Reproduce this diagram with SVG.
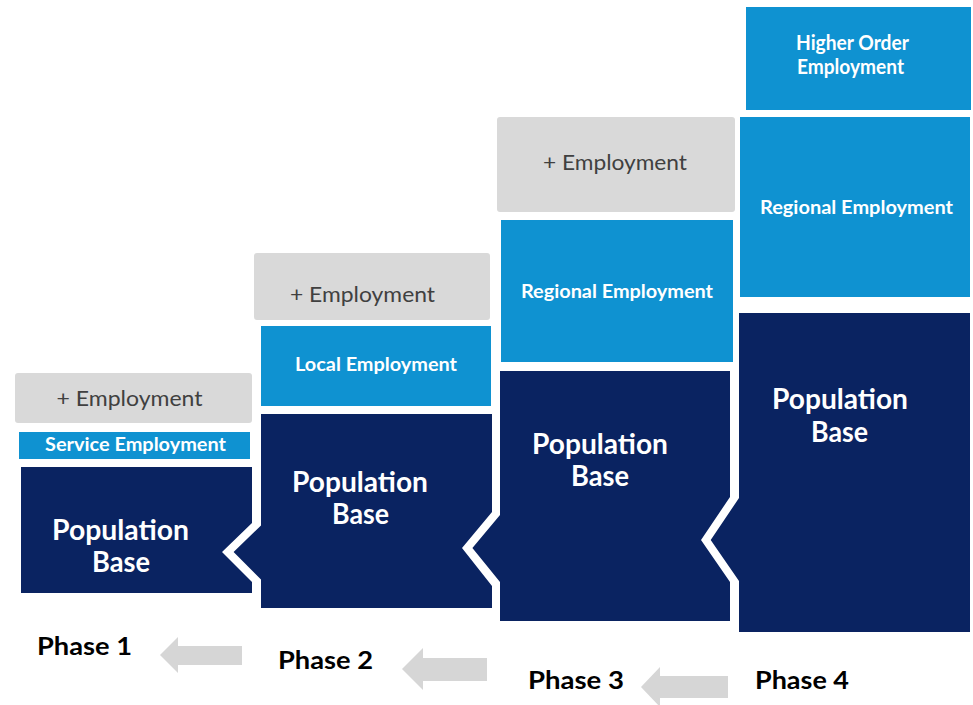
<svg xmlns="http://www.w3.org/2000/svg" width="973" height="705" viewBox="0 0 973 705">
  <defs>
    <style>
      .grey { fill: #d9d9d9; }
      .light { fill: #0f92d1; }
      .navy { fill: #0a2361; }
      .arrow { fill: #d6d6d6; }
      text { font-family: Lato, "Open Sans", "Liberation Sans", sans-serif; text-anchor: middle; }
      .plus { font-size: 21px; fill: #404040; }
      .emp { font-size: 19px; font-weight: bold; fill: #ffffff; }
      .emp-sm { font-size: 18px; font-weight: bold; fill: #ffffff; }
      .emp-lg { font-size: 20px; font-weight: bold; fill: #ffffff; }
      .pop { font-size: 28px; font-weight: bold; fill: #ffffff; }
      .phase { font-size: 25px; font-weight: bold; fill: #000000; }
    </style>
  </defs>
  <rect width="973" height="705" fill="#ffffff"/>

  <!-- Phase 1 stack -->
  <g id="phase1-extra">
    <rect class="grey" x="15" y="373" width="237" height="50" rx="3"/>
    <text class="plus" x="129.5" y="406" textLength="146" lengthAdjust="spacingAndGlyphs">+ Employment</text>
  </g>
  <g id="phase1-service">
    <rect class="light" x="19" y="432" width="231" height="27"/>
    <text class="emp-sm" x="135.5" y="451" textLength="181" lengthAdjust="spacingAndGlyphs">Service Employment</text>
  </g>
  <g id="phase1-population">
    <polygon class="navy" points="21,467 252,467 252,523 222,552 252,582 252,593 21,593"/>
    <text class="pop" x="120.5" y="540" textLength="137" lengthAdjust="spacingAndGlyphs">Population</text>
    <text class="pop" x="121" y="572" textLength="58" lengthAdjust="spacingAndGlyphs">Base</text>
  </g>

  <!-- Phase 2 stack -->
  <g id="phase2-extra">
    <rect class="grey" x="254" y="253" width="236" height="67" rx="3"/>
    <text class="plus" x="362.5" y="302" textLength="145" lengthAdjust="spacingAndGlyphs">+ Employment</text>
  </g>
  <g id="phase2-local">
    <rect class="light" x="261" y="326" width="230" height="80"/>
    <text class="emp" x="376" y="371" textLength="162" lengthAdjust="spacingAndGlyphs">Local Employment</text>
  </g>
  <g id="phase2-population">
    <polygon class="navy" points="261,414 492,414 492,512 462,548 492,586 492,608 261,608 261,579.4 233.6,552 261,525.5"/>
    <text class="pop" x="360" y="492" textLength="136" lengthAdjust="spacingAndGlyphs">Population</text>
    <text class="pop" x="360.5" y="524" textLength="57" lengthAdjust="spacingAndGlyphs">Base</text>
  </g>

  <!-- Phase 3 stack -->
  <g id="phase3-extra">
    <rect class="grey" x="497" y="117" width="238" height="95" rx="3"/>
    <text class="plus" x="615" y="170" textLength="144" lengthAdjust="spacingAndGlyphs">+ Employment</text>
  </g>
  <g id="phase3-regional">
    <rect class="light" x="501" y="220" width="232" height="142"/>
    <text class="emp" x="617" y="298" textLength="192" lengthAdjust="spacingAndGlyphs">Regional Employment</text>
  </g>
  <g id="phase3-population">
    <polygon class="navy" points="500,371 730,371 730,497 701,540 730,582 730,621 500,621 500,582 472.4,548 500,515"/>
    <text class="pop" x="600" y="454" textLength="136" lengthAdjust="spacingAndGlyphs">Population</text>
    <text class="pop" x="600" y="486" textLength="58" lengthAdjust="spacingAndGlyphs">Base</text>
  </g>

  <!-- Phase 4 stack -->
  <g id="phase4-higher">
    <rect class="light" x="746" y="7" width="225" height="103"/>
    <text class="emp-lg" x="852.5" y="50" textLength="113" lengthAdjust="spacingAndGlyphs">Higher Order</text>
    <text class="emp-lg" x="850.5" y="74" textLength="107" lengthAdjust="spacingAndGlyphs">Employment</text>
  </g>
  <g id="phase4-regional">
    <rect class="light" x="740" y="117" width="230" height="180"/>
    <text class="emp" x="856.5" y="214" textLength="193" lengthAdjust="spacingAndGlyphs">Regional Employment</text>
  </g>
  <g id="phase4-population">
    <polygon class="navy" points="739,313 970,313 970,632 739,632 739,581 710.7,540 739,498"/>
    <text class="pop" x="840" y="409" textLength="136" lengthAdjust="spacingAndGlyphs">Population</text>
    <text class="pop" x="839.5" y="442" textLength="57" lengthAdjust="spacingAndGlyphs">Base</text>
  </g>

  <!-- Phase labels -->
  <g id="label-phase1"><text class="phase" x="84.5" y="655" textLength="95" lengthAdjust="spacingAndGlyphs">Phase 1</text></g>
  <g id="label-phase2"><text class="phase" x="325.5" y="669" textLength="95" lengthAdjust="spacingAndGlyphs">Phase 2</text></g>
  <g id="label-phase3"><text class="phase" x="576" y="689" textLength="96" lengthAdjust="spacingAndGlyphs">Phase 3</text></g>
  <g id="label-phase4"><text class="phase" x="802" y="689" textLength="94" lengthAdjust="spacingAndGlyphs">Phase 4</text></g>

  <!-- Block arrows between phase labels -->
  <g id="connectors">
    <polygon class="arrow" points="160,655 178,637 178,646 242,646 242,665 178,665 178,673"/>
    <polygon class="arrow" points="402,669 423,648 423,658 487,658 487,681 423,681 423,690"/>
    <polygon class="arrow" points="641,687 660,667 660,676 728,676 728,698 660,698 660,707"/>
  </g>
</svg>
